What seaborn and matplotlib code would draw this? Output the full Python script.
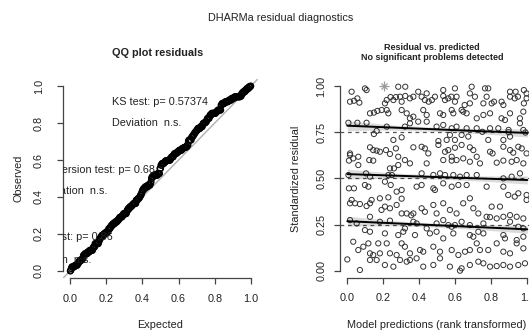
import numpy as np
import pandas as pd
import matplotlib
matplotlib.use("Agg")
import matplotlib.pyplot as plt
import seaborn as sns

# ---------------- data ----------------
# (model prediction rank, scaled residual) pairs, grouped by residual band
pts_top = [
    (0.024, 0.969), (0.098, 0.987), (0.107, 0.978), (0.283, 0.996), (0.322, 0.996),
    (0.441, 0.960), (0.533, 0.978), (0.598, 0.987), (0.691, 0.996), (0.681, 0.960),
    (0.765, 0.987), (0.783, 0.987), (0.904, 0.969), (0.935, 0.969), (0.981, 0.978),
    (0.996, 0.960),
    (0.015, 0.915), (0.037, 0.920), (0.056, 0.933), (0.067, 0.910), (0.209, 0.906),
    (0.219, 0.924), (0.240, 0.940), (0.256, 0.924), (0.270, 0.940), (0.293, 0.942),
    (0.302, 0.915), (0.322, 0.946), (0.348, 0.933), (0.367, 0.942), (0.394, 0.969),
    (0.413, 0.942), (0.431, 0.924), (0.452, 0.915), (0.470, 0.924), (0.487, 0.942),
    (0.533, 0.946), (0.543, 0.924), (0.561, 0.933), (0.578, 0.942), (0.598, 0.915),
    (0.607, 0.942), (0.652, 0.897), (0.681, 0.906), (0.709, 0.942), (0.756, 0.906),
    (0.774, 0.942), (0.802, 0.906), (0.815, 0.915), (0.857, 0.915), (0.867, 0.897),
    (0.904, 0.942), (0.930, 0.933), (0.948, 0.942), (0.981, 0.906), (0.996, 0.933),
    (0.126, 0.852), (0.148, 0.856), (0.167, 0.865), (0.191, 0.870), (0.219, 0.870),
    (0.228, 0.852), (0.302, 0.870), (0.330, 0.852), (0.348, 0.825), (0.367, 0.834),
    (0.422, 0.870), (0.441, 0.843), (0.515, 0.852), (0.533, 0.843), (0.580, 0.870),
    (0.589, 0.852), (0.635, 0.870), (0.644, 0.861), (0.663, 0.852), (0.719, 0.825),
    (0.756, 0.843), (0.793, 0.852), (0.857, 0.825), (0.876, 0.816), (0.904, 0.852),
    (0.959, 0.825), (0.978, 0.861),
    (0.006, 0.801), (0.056, 0.801), (0.107, 0.801), (0.219, 0.780), (0.320, 0.780),
    (0.348, 0.798), (0.394, 0.807), (0.441, 0.807), (0.496, 0.780), (0.533, 0.789),
    (0.580, 0.771), (0.607, 0.780), (0.663, 0.771), (0.719, 0.771), (0.793, 0.771),
    (0.839, 0.771), (0.896, 0.762), (0.959, 0.798), (0.978, 0.762), (0.163, 0.757),
    (0.148, 0.740), (0.750, 0.752), (0.896, 0.750), (0.990, 0.748),
]
pts_upper = [
    (0.256, 0.708), (0.302, 0.722), (0.506, 0.702), (0.552, 0.708), (0.570, 0.735),
    (0.598, 0.708), (0.635, 0.735), (0.672, 0.726), (0.783, 0.708), (0.867, 0.708),
    (0.904, 0.726),
    (0.015, 0.635), (0.015, 0.626), (0.061, 0.617), (0.126, 0.668), (0.144, 0.653),
    (0.163, 0.650), (0.181, 0.644), (0.215, 0.653), (0.237, 0.632), (0.270, 0.662),
    (0.283, 0.617), (0.320, 0.599), (0.367, 0.668), (0.413, 0.671), (0.431, 0.662),
    (0.450, 0.635), (0.506, 0.681), (0.543, 0.644), (0.561, 0.653), (0.580, 0.617),
    (0.598, 0.666), (0.635, 0.681), (0.681, 0.668), (0.700, 0.653), (0.719, 0.617),
    (0.793, 0.644), (0.807, 0.635), (0.867, 0.671), (0.904, 0.653), (0.922, 0.639),
    (0.950, 0.671), (0.969, 0.662), (0.996, 0.635),
    (0.009, 0.596), (0.033, 0.608), (0.061, 0.572), (0.122, 0.599), (0.144, 0.596),
    (0.237, 0.554), (0.259, 0.554), (0.283, 0.572), (0.348, 0.581), (0.441, 0.581),
    (0.533, 0.599), (0.580, 0.596), (0.607, 0.599), (0.644, 0.608), (0.681, 0.590),
    (0.737, 0.581), (0.830, 0.585), (0.867, 0.596), (0.913, 0.590), (0.941, 0.599),
    (0.978, 0.581),
    (0.006, 0.518), (0.104, 0.527), (0.126, 0.509), (0.228, 0.518), (0.248, 0.518),
    (0.413, 0.527), (0.478, 0.518), (0.515, 0.527), (0.543, 0.518), (0.589, 0.518),
    (0.626, 0.509), (0.663, 0.518), (0.719, 0.518), (0.867, 0.500), (0.913, 0.509),
    (0.959, 0.527),
]
pts_lower = [
    (0.009, 0.446), (0.037, 0.446), (0.098, 0.464), (0.117, 0.455), (0.209, 0.482),
    (0.241, 0.464), (0.274, 0.428), (0.302, 0.437), (0.385, 0.455), (0.413, 0.464),
    (0.478, 0.446), (0.487, 0.437), (0.533, 0.473), (0.580, 0.455), (0.617, 0.464),
    (0.663, 0.464), (0.774, 0.455), (0.867, 0.455), (0.894, 0.410), (0.930, 0.401),
    (0.950, 0.419), (0.996, 0.410),
    (0.024, 0.383), (0.135, 0.383), (0.181, 0.392), (0.228, 0.397), (0.302, 0.390),
    (0.681, 0.392), (0.996, 0.383),
    (0.015, 0.365), (0.043, 0.365), (0.070, 0.361), (0.107, 0.350), (0.126, 0.365),
    (0.190, 0.329), (0.209, 0.347), (0.237, 0.338), (0.274, 0.356), (0.302, 0.310),
    (0.330, 0.310), (0.367, 0.310), (0.413, 0.338), (0.431, 0.319), (0.478, 0.356),
    (0.496, 0.310), (0.533, 0.365), (0.570, 0.329), (0.607, 0.310), (0.644, 0.365),
    (0.700, 0.338), (0.728, 0.310), (0.774, 0.292), (0.802, 0.347), (0.848, 0.347),
    (0.867, 0.292), (0.904, 0.301), (0.941, 0.292), (0.978, 0.283),
    (0.015, 0.274), (0.052, 0.256), (0.126, 0.292), (0.181, 0.265), (0.237, 0.271),
    (0.355, 0.300), (0.367, 0.265), (0.385, 0.256), (0.496, 0.256), (0.533, 0.274),
    (0.561, 0.247), (0.598, 0.247), (0.635, 0.265), (0.681, 0.247), (0.756, 0.256),
    (0.793, 0.290), (0.830, 0.283), (0.904, 0.265),
]
pts_bottom = [
    (0.441, 0.229), (0.580, 0.238), (0.950, 0.238), (0.978, 0.229),
    (0.098, 0.220), (0.126, 0.211), (0.209, 0.202), (0.283, 0.193), (0.311, 0.211),
    (0.320, 0.229), (0.376, 0.193), (0.459, 0.202), (0.496, 0.211), (0.533, 0.175),
    (0.589, 0.202), (0.681, 0.193), (0.700, 0.184), (0.728, 0.211), (0.756, 0.202),
    (0.867, 0.193), (0.876, 0.175), (0.941, 0.166), (0.978, 0.184),
    (0.033, 0.157), (0.061, 0.112), (0.089, 0.130), (0.117, 0.148), (0.126, 0.094),
    (0.144, 0.085), (0.172, 0.148), (0.181, 0.094), (0.219, 0.148), (0.237, 0.094),
    (0.274, 0.085), (0.302, 0.148), (0.320, 0.130), (0.348, 0.094), (0.404, 0.112),
    (0.422, 0.103), (0.478, 0.130), (0.515, 0.103), (0.580, 0.112), (0.617, 0.085),
    (0.654, 0.103), (0.681, 0.112), (0.719, 0.148), (0.737, 0.112), (0.783, 0.112),
    (0.830, 0.148), (0.867, 0.103), (0.904, 0.094), (0.941, 0.148), (0.978, 0.121),
    (0.000, 0.061), (0.070, 0.004), (0.126, 0.058), (0.163, 0.058), (0.209, 0.031),
    (0.256, 0.022), (0.293, 0.058), (0.330, 0.049), (0.348, 0.058), (0.385, 0.067),
    (0.422, 0.022), (0.478, 0.031), (0.515, 0.067), (0.570, 0.022), (0.626, 0.000),
    (0.635, 0.013), (0.681, 0.031), (0.728, 0.049), (0.756, 0.040), (0.793, 0.022),
    (0.830, 0.025), (0.867, 0.031), (0.904, 0.022), (0.950, 0.031), (0.987, 0.040),
]
outlier_pred = [0.205]
outlier_resid = [1.0]

# quantile regression fits (0.25, 0.5, 0.75) and their band half-widths
q_x = [0.0, 0.25, 0.5, 0.75, 1.0]
q25_fit = [0.268, 0.257, 0.246, 0.235, 0.224]
q50_fit = [0.523, 0.515, 0.507, 0.499, 0.491]
q75_fit = [0.785, 0.775, 0.765, 0.755, 0.746]
band_half = [0.027, 0.014, 0.011, 0.014, 0.022]
quantile_levels = [0.25, 0.5, 0.75]

# texts
main_title = "DHARMa residual diagnostics"
qq_title = "QQ plot residuals"
res_title = ["Residual vs. predicted", "No significant problems detected"]
ks_text = ["KS test: p= 0.57374", "Deviation  n.s."]
disp_text = ["Dispersion test: p= 0.68", "Deviation  n.s."]
outl_text = ["Outlier test: p= 0.86", "Deviation  n.s."]
qq_ticks = [0.0, 0.2, 0.4, 0.6, 0.8, 1.0]
qq_ticklabels = ["0.0", "0.2", "0.4", "0.6", "0.8", "1.0"]
res_yticks = [0.0, 0.25, 0.5, 0.75, 1.0]
res_yticklabels = ["0.00", "0.25", "0.50", "0.75", "1.00"]

# ---------------- figure ----------------
sns.set_theme(style="white")
plt.rcParams["font.family"] = ["Liberation Sans", "DejaVu Sans"]

W, H = 529, 330
fig = plt.figure(figsize=(W / 100, H / 100), dpi=100)
fig.patch.set_facecolor("white")

def px_axes(l, r, t, b):
    return [l / W, 1 - b / H, (r - l) / W, (b - t) / H]

ax1 = fig.add_axes(px_axes(62.8, 258.2, 78.6, 278.4))
ax2 = fig.add_axes(px_axes(340.1, 534.5, 78.6, 278.1))

FS = 7.8
TXT = "#222222"
AXC = "#444444"

all_pts = pts_top + pts_upper + pts_lower + pts_bottom
df_res = pd.DataFrame(all_pts, columns=["pred", "resid"])

# ---- QQ plot ----
obs = np.sort(np.concatenate([df_res["resid"].to_numpy(), outlier_resid]))
n = len(obs)
df_qq = pd.DataFrame({"expected": (np.arange(1, n + 1) - 0.5) / n, "observed": obs})

ax1.set_xlim(-0.04, 1.04)
ax1.set_ylim(-0.04, 1.04)
ax1.axline((0, 0), (1, 1), color="#b0b0b0", lw=1.0, zorder=1)
sns.scatterplot(data=df_qq, x="expected", y="observed", ax=ax1, marker="o",
                s=18, facecolor="none", edgecolor="black", linewidth=0.9, zorder=2)

def legend_text(ax, x, y, lines, ha):
    for i, t in enumerate(lines):
        ax.text(x, y - i * 0.115, t, ha=ha, va="center", fontsize=FS,
                color=TXT, clip_on=True, zorder=3)

legend_text(ax1, 0.232, 0.914, ks_text, "left")
ax1.text(0.47, 0.546, disp_text[0], ha="right", va="center", fontsize=FS, color=TXT, clip_on=True)
ax1.text(0.205, 0.434, disp_text[1], ha="right", va="center", fontsize=FS, color=TXT, clip_on=True)
ax1.text(0.236, 0.184, outl_text[0], ha="right", va="center", fontsize=FS, color=TXT, clip_on=True)
ax1.text(0.12, 0.062, outl_text[1], ha="right", va="center", fontsize=FS, color=TXT, clip_on=True)

# ---- residual vs predicted ----
ax2.set_xlim(-0.04, 1.04)
ax2.set_ylim(-0.04, 1.04)
sns.scatterplot(data=df_res, x="pred", y="resid", ax=ax2, marker="o", s=14,
                facecolor="none", edgecolor="#333333", linewidth=0.7, zorder=2)
ax2.plot(outlier_pred, outlier_resid, marker="+", ms=7, mew=0.9, color="#9a9a9a", ls="none", zorder=3)
ax2.plot(outlier_pred, outlier_resid, marker="x", ms=5, mew=0.9, color="#9a9a9a", ls="none", zorder=3)

for q in quantile_levels:
    ax2.axhline(q, color="#555555", lw=0.9, ls=(0, (3, 3)), zorder=1)
for fit in (q25_fit, q50_fit, q75_fit):
    fit = np.asarray(fit)
    half = np.asarray(band_half)
    ax2.fill_between(q_x, fit - half, fit + half, color="black", alpha=0.14, lw=0, zorder=3)
    sns.lineplot(x=q_x, y=fit, ax=ax2, color="black", lw=1.4, zorder=4)

# ---- axes styling (R base style) ----
for ax in (ax1, ax2):
    ax.set_facecolor("white")
    ax.grid(False)
    for side in ("top", "right"):
        ax.spines[side].set_visible(False)
    for side in ("left", "bottom"):
        ax.spines[side].set_color(AXC)
        ax.spines[side].set_linewidth(0.9)
        ax.spines[side].set_bounds(0, 1)
    ax.tick_params(axis="both", direction="out", length=4.5, width=0.9, color=AXC,
                   labelsize=FS, labelcolor=TXT, left=True, bottom=True)
    ax.set_xticks(qq_ticks)
    ax.set_xticklabels(qq_ticklabels)

ax1.set_yticks(qq_ticks)
ax1.set_yticklabels(qq_ticklabels, rotation=90, va="center")
ax2.set_yticks(res_yticks)
ax2.set_yticklabels(res_yticklabels, rotation=90, va="center")
ax1.tick_params(axis="y", pad=9)
ax2.tick_params(axis="y", pad=5.5)
ax1.tick_params(axis="x", pad=6.5)
ax2.tick_params(axis="x", pad=6.5)

ax1.set_xlabel("Expected", fontsize=FS, color=TXT)
ax1.set_ylabel("Observed", fontsize=FS, color=TXT)
ax2.set_xlabel("Model predictions (rank transformed)", fontsize=FS, color=TXT)
ax2.set_ylabel("Standardized residual", fontsize=FS, color=TXT)
ax1.xaxis.set_label_coords(0.5, (278.4 - 325) / 199.8)
ax1.yaxis.set_label_coords((18 - 62.8) / 195.4, 0.5)
ax2.xaxis.set_label_coords(0.498, (278.1 - 325) / 199.5)
ax2.yaxis.set_label_coords((296 - 340.1) / 194.4, 0.5)
for lab in (ax1.xaxis.label, ax2.xaxis.label, ax1.yaxis.label, ax2.yaxis.label):
    lab.set_va("center")

# ---- titles ----
fig.text(281 / W, 1 - 18 / H, main_title, ha="center", va="center", fontsize=FS, color=TXT)
fig.text(158 / W, 1 - 53 / H, qq_title, ha="center", va="center", fontsize=FS,
         fontweight="bold", color=TXT)
fig.text(432 / W, 1 - 47 / H, res_title[0], ha="center", va="center", fontsize=6.5,
         fontweight="bold", color=TXT)
fig.text(432 / W, 1 - 57 / H, res_title[1], ha="center", va="center", fontsize=6.5,
         fontweight="bold", color=TXT)

fig.savefig("out.png", dpi=100, facecolor="white")
